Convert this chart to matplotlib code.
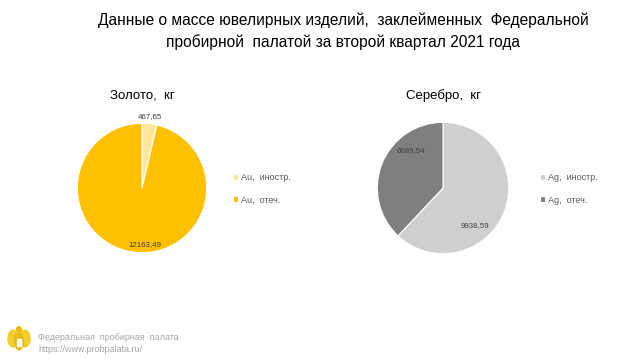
import matplotlib
matplotlib.use("Agg")
import matplotlib.pyplot as plt
import numpy as np
from matplotlib import patches

plt.rcParams['font.family'] = ['Liberation Sans', 'DejaVu Sans']

title = "Данные о массе ювелирных изделий,  заклейменных  Федеральной\nпробирной  палатой за второй квартал 2021 года"

gold_title = "Золото,  кг"
gold_labels = ["Au,  иностр.", "Au,  отеч."]
gold_values = [467.65, 12163.49]
gold_colors = ["#ffe699", "#ffc000"]

silver_title = "Серебро,  кг"
silver_labels = ["Ag,  иностр.", "Ag,  отеч."]
silver_values = [9938.59, 6089.54]
silver_colors = ["#d0cece", "#7f7f7f"]

# data label placement (angle in degrees, radius) as Excel put them
gold_lab_pos = [(84, 1.11), (-87, 0.875)]
silver_lab_pos = [(-50, 0.75), (131, 0.75)]

W, H = 640, 360


def fmt(v):
    return f"{v:.2f}".replace(".", ",")


def draw_pie(cx, cy, r, values, colors, labels, lab_pos, name, name_y, leg_x):
    ax = fig.add_axes([(cx - r) / W, (H - cy - r) / H, 2 * r / W, 2 * r / H])
    wedges, _ = ax.pie(values, colors=colors, startangle=90, counterclock=False,
                       wedgeprops=dict(edgecolor="white", linewidth=0.8))
    ax.set_xlim(-1.02, 1.02)
    ax.set_ylim(-1.02, 1.02)
    ax.set_aspect("equal")
    ax.axis("off")
    for v, (ang, rr) in zip(values, lab_pos):
        a = np.deg2rad(ang)
        ax.text(rr * np.cos(a), rr * np.sin(a), fmt(v), ha="center", va="center",
                fontsize=5.7, color="#404040", clip_on=False)
    fig.text(cx / W, 1 - name_y / H, name, ha="center", va="center",
             fontsize=9.5, color="#000000")
    fig.legend(wedges, labels, loc="center left",
               bbox_to_anchor=(leg_x / W, 1 - 189 / H), frameon=False,
               fontsize=6.5, labelcolor="#595959", handlelength=0.6,
               handleheight=0.6, handletextpad=0.35, labelspacing=1.45,
               borderpad=0)


fig = plt.figure(figsize=(6.4, 3.6), dpi=100)
fig.patch.set_facecolor("white")

fig.text(343 / W, 1 - 31 / H, title, ha="center", va="center",
         fontsize=11.2, color="#000000", linespacing=1.45)

draw_pie(142, 188, 66, gold_values, gold_colors, gold_labels, gold_lab_pos,
         gold_title, 96, 228)
draw_pie(443, 188, 67, silver_values, silver_colors, silver_labels, silver_lab_pos,
         silver_title, 96, 535)

# footer logo (simplified emblem)
lax = fig.add_axes([7 / W, (H - 354) / H, 24 / W, 28 / H])
lax.set_xlim(0, 1)
lax.set_ylim(0, 1)
lax.axis("off")
lax.add_patch(patches.Ellipse((0.25, 0.55), 0.42, 0.6, color="#f2cf2e"))
lax.add_patch(patches.Ellipse((0.75, 0.55), 0.42, 0.6, color="#f2cf2e"))
lax.add_patch(patches.Ellipse((0.5, 0.45), 0.35, 0.6, color="#e8b818"))
lax.add_patch(patches.Circle((0.5, 0.88), 0.1, color="#e8b818"))
lax.add_patch(patches.Rectangle((0.42, 0.3), 0.16, 0.25, color="#ffffff"))

fig.text(38 / W, 1 - 337 / H, "Федеральная  пробирная  палата", ha="left",
         va="center", fontsize=6.5, color="#a6a6a6")
fig.text(38 / W, 1 - 349 / H, "https://www.probpalata.ru/", ha="left",
         va="center", fontsize=6.5, color="#a6a6a6")

fig.savefig("out.png", dpi=100)
